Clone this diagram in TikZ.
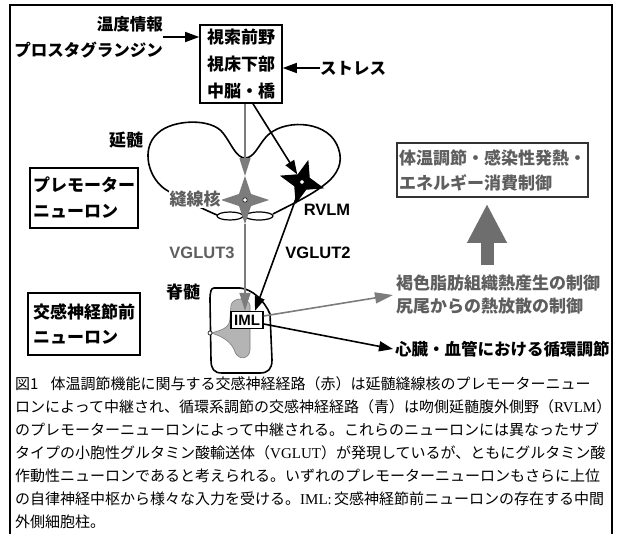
\documentclass[tikz,border=0pt]{standalone}
\usepackage{fontspec}
\usetikzlibrary{arrows.meta,shapes.geometric,calc}

\newfontfamily\gothic{Noto Sans CJK JP}
\newfontfamily\arialb{Liberation Sans}
\newfontfamily\tms{Liberation Serif}

\definecolor{midgray}{HTML}{7C7C7C}
\definecolor{textgray}{HTML}{5E5E5E}
\definecolor{matter}{HTML}{B4B4B4}
\definecolor{bigarrowgray}{HTML}{6E6E6E}

% stretchable glue between CJK characters, so caption lines can be justified
\XeTeXinterchartoks 1 1 = {\hskip 0pt plus 1fil\relax}
\XeTeXinterchartoks 1 2 = {\hskip 0pt plus 1fil\relax}
\XeTeXinterchartoks 2 1 = {\hskip 0pt plus 1fil\relax}
\XeTeXinterchartoks 1 3 = {\hskip 0pt plus 1fil\relax}
\XeTeXinterchartoks 3 1 = {\hskip 0pt plus 1fil\relax}
\XeTeXinterchartoks 3 3 = {\hskip 0pt plus 1fil\relax}
\XeTeXinterchartoks 3 2 = {\hskip 0pt plus 1fil\relax}
\XeTeXinterchartoks 0 1 = {\hskip 0pt plus 1fil\relax}
\XeTeXinterchartoks 1 0 = {\hskip 0pt plus 1fil\relax}
\newcommand\capline[1]{\makebox[588pt][s]{\XeTeXinterchartokenstate=1 #1}}

\tikzset{
  lbl/.style={font=\gothic\bfseries\fontsize{17}{17}\selectfont, inner sep=0pt},
  boxed/.style={draw, line width=1.6pt, inner sep=0pt},
  blkarrow/.style={line width=1.6pt, -{Triangle[length=14pt,width=10pt]}},
  grayarrow/.style={midgray, line width=1.6pt, -{Triangle[length=18pt,width=11pt]}},
  outline/.style={line width=1.6pt, line join=round},
  capt/.style={font=\gothic\fontsize{15}{15}\selectfont, inner sep=0pt, anchor=west},
  bigarrow/.style={bigarrowgray, line width=13pt, -{Triangle[length=39pt,width=37pt]}},
  vgl/.style={font=\arialb\bfseries\fontsize{16.5}{16.5}\selectfont, inner sep=0pt},
  neuron/.style={star, star points=4, inner sep=0pt, outer sep=0pt}
}

\begin{document}
\begin{tikzpicture}[x=1pt,y=-1pt]
\useasboundingbox (0,0) rectangle (617,533);

% outer frame
\draw[line width=1.5pt] (10,540) -- (10,5) -- (612,5) -- (612,540);

% ---- medulla outline ----
\draw[outline] (168,191) .. controls (148,180) and (140,148) .. (158,133)
  .. controls (173,119) and (212,118) .. (223,133)
  .. controls (231,143) and (236,158) .. (245,158)
  .. controls (254,158) and (258,146) .. (266,137)
  .. controls (282,119) and (324,120) .. (336,143)
  .. controls (344,158) and (340,170) .. (330,180)
  .. controls (315,194) and (290,205) .. (273,214);
\draw[outline] (168,191) .. controls (185,200) and (205,210) .. (217,215);
\draw[line width=1.2pt] (230,216) ellipse [x radius=13pt, y radius=4pt];
\draw[line width=1.2pt] (259,216) ellipse [x radius=14pt, y radius=4pt];

% ---- spinal cord ----
\draw[outline] (214,288) -- (240,288) .. controls (252,289) and (264,300) .. (270,314)
  -- (272,360) .. controls (272,369) and (268,373) .. (260,373) -- (222,373)
  .. controls (214,373) and (211,369) .. (211,360) -- (210,300)
  .. controls (210,292) and (211,288) .. (214,288) -- cycle;
\filldraw[fill=matter, draw=midgray, line width=0.6pt]
  (211,333) .. controls (222,330) and (230,328) .. (230,318) -- (231,305)
  .. controls (233,297) and (248,297) .. (250,305) -- (250,350)
  .. controls (249,360) and (238,360) .. (235,352)
  .. controls (232,342) and (222,336) .. (211,333) -- cycle;
\filldraw[fill=white, draw=black, line width=0.6pt] (210,333) circle (2pt);

% ---- boxes and labels ----
\node[boxed, lbl, minimum width=82pt, minimum height=78pt, align=center,
      font=\gothic\bfseries\fontsize{17}{27}\selectfont] (poa) at (241,64) {視索前野\\視床下部\\中脳・橋};
\node[lbl, align=right, anchor=east, font=\gothic\bfseries\fontsize{16.5}{26}\selectfont] (inputs) at (163,37) {温度情報\\プロスタグランジン};
\node[lbl, anchor=west, font=\gothic\bfseries\fontsize{16.5}{16.5}\selectfont] (stress) at (320,68) {ストレス};
\node[lbl] (medlabel) at (126,140) {延髄};
\node[lbl] (sclabel) at (183,292) {脊髄};

\node[boxed, lbl, minimum width=108pt, minimum height=60pt, align=left,
      font=\gothic\bfseries\fontsize{17}{26}\selectfont] (premotor) at (84,198) {プレモーター\\ニューロン};
\node[boxed, lbl, minimum width=112pt, minimum height=62pt, align=left,
      font=\gothic\bfseries\fontsize{17}{25}\selectfont] (presym) at (84,324) {交感神経節前\\ニューロン};

\node[boxed, lbl, draw=black!80, text=textgray, minimum width=191pt, minimum height=54pt, align=left,
      font=\gothic\bfseries\fontsize{17}{25}\selectfont] (goal) at (492.5,170) {体温調節・感染性発熱・\\エネルギー消費制御};

\node[lbl, text=textgray, align=left, anchor=west,
      font=\gothic\bfseries\fontsize{17}{23}\selectfont] (therm) at (396,295) {褐色脂肪組織熱産生の制御\\尻尾からの熱放散の制御};
\node[lbl, anchor=west, font=\gothic\bfseries\fontsize{16.5}{16.5}\selectfont] (circ) at (395,349) {心臓・血管における循環調節};

% ---- premotor neurons ----
\node[neuron, star point ratio=2.8, fill=midgray, minimum size=48pt] (raphe) at (245,200) {};
\node[neuron, star point ratio=2.6, fill=black, minimum size=46pt,
      shape border rotate=-16] (rvlm) at (302,182) {};

\node[draw, line width=1.4pt, fill=white, vgl, font=\arialb\bfseries\fontsize{15}{15}\selectfont,
      inner sep=2pt, minimum width=32pt, minimum height=17pt] (iml) at (247,320) {IML};

% ---- pathways ----
\draw[blkarrow] (inputs.east) -- (inputs.east -| poa.west);
\draw[blkarrow] (stress.west) -- (stress.west -| poa.east);

\coordinate (poaG) at (poa.south -| raphe);
\draw[grayarrow] (poaG) -- (raphe.north);
\draw[grayarrow] (raphe.south) -- (raphe.south |- iml.north);

\coordinate (poaB) at ([xshift=12pt]poa.south);
\draw[blkarrow, shorten >=9pt] (poaB) -- (rvlm.center);
\draw[blkarrow] (rvlm.center) -- ([xshift=8pt]iml.north);

\draw[grayarrow] ([yshift=4pt]iml.east) -- ([xshift=-3pt]therm.west);
\draw[blkarrow] ([yshift=-4pt]iml.east) -- ([xshift=-2pt]circ.west);

\coordinate (bigbase) at (487,265);
\draw[bigarrow, shorten >=6pt] (bigbase) -- (bigbase |- goal.south);

\filldraw[fill=white, draw=black, line width=0.5pt] (raphe.center) circle (2.2pt);
\filldraw[fill=white, draw=black, line width=0.5pt] (rvlm.center) circle (2.2pt);

\node[lbl, text=textgray, fill=white, inner sep=1pt] (raphelabel) at (195,199) {縫線核};
\node[vgl] (rvlmlabel) at (327,210) {RVLM};
\node[vgl, text=textgray] (vglut3) at (202,253) {VGLUT3};
\node[vgl] (vglut2) at (318,253) {VGLUT2};

% ---- caption ----
\node[capt] (cap1) at (15,384) {\capline{図1\hspace{12pt}体温調節機能に関与する交感神経経路（赤）は延髄縫線核のプレモーターニュー}};
\node[capt] (cap2) at (15,407) {\capline{ロンによって中継され、循環系調節の交感神経経路（青）は吻側延髄腹外側野（{\tms RVLM}）}};
\node[capt] (cap3) at (15,430) {\capline{のプレモーターニューロンによって中継される。これらのニューロンには異なったサブ}};
\node[capt] (cap4) at (15,453) {\capline{タイプの小胞性グルタミン酸輸送体（{\tms VGLUT}）が発現しているが、ともにグルタミン酸}};
\node[capt] (cap5) at (15,476) {\capline{作動性ニューロンであると考えられる。いずれのプレモーターニューロンもさらに上位}};
\node[capt] (cap6) at (15,499) {\capline{の自律神経中枢から様々な入力を受ける。{\tms IML:} 交感神経節前ニューロンの存在する中間}};
\node[capt] (cap7) at (15,522) {外側細胞柱。};
\end{tikzpicture}
\end{document}
